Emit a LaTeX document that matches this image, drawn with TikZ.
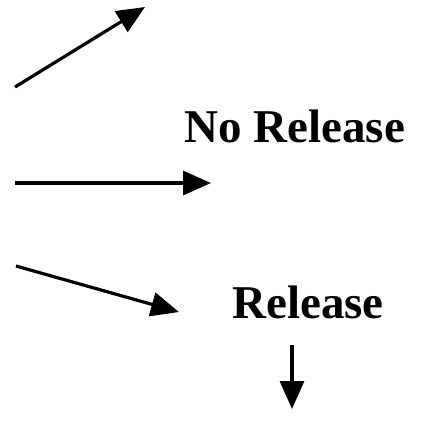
\documentclass[tikz,border=0pt]{standalone}
\usepackage{fontspec}
\setmainfont{Liberation Serif}
\usetikzlibrary{arrows.meta,positioning}

\tikzset{
  flow/.style={line width=1.6pt, -{Triangle[length=14pt,width=12pt]}},
  lbl/.style={anchor=base west, inner sep=0pt, font=\fontsize{23.5}{27}\selectfont\bfseries}
}

\begin{document}
\begin{tikzpicture}[x=0.5pt,y=-0.5pt]
\useasboundingbox (0,0) rectangle (423,420);
\node[lbl] (norel) at (184,142) {No Release};
\node[lbl] (rel) at (232,318) {Release};
\coordinate (up0) at (15,87);
\coordinate (up1) at (145,7);
\coordinate (mid0) at (15,183);
\coordinate (mid1) at (211,183);
\coordinate (dn0) at (16,266);
\coordinate (dn1) at (179,312);
\coordinate (rel0) at (292,345);
\coordinate (rel1) at (292,409);
  \draw[flow] (up0) -- (up1);
  \draw[flow] (mid0) -- (mid1);
  \draw[flow] (dn0) -- (dn1);
  \draw[flow] (rel0) -- (rel1);
\end{tikzpicture}
\end{document}
